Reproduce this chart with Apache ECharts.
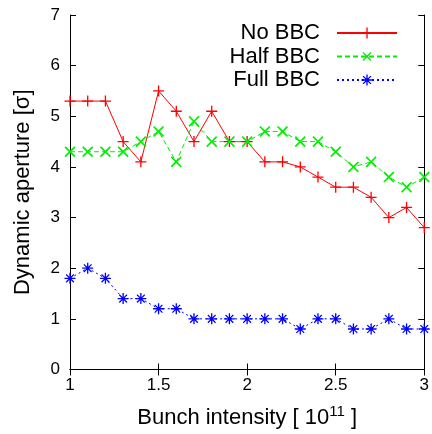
<!DOCTYPE html>
<html>
<head>
<meta charset="utf-8">
<script src="https://cdn.jsdelivr.net/npm/echarts@6/dist/echarts.min.js"></script>
<style>
  html, body { margin: 0; padding: 0; background: #fff; }
  #chart { width: 432px; height: 434px; }
</style>
</head>
<body>
<div id="chart"></div>
<script>
// bunch intensity [1e11]
var intensity = [1.0, 1.1, 1.2, 1.3, 1.4, 1.5, 1.6, 1.7, 1.8, 1.9, 2.0,
                 2.1, 2.2, 2.3, 2.4, 2.5, 2.6, 2.7, 2.8, 2.9, 3.0];
var noBBC   = [5.3, 5.3, 5.3, 4.5, 4.1, 5.5, 5.1, 4.5, 5.1, 4.5, 4.5,
               4.1, 4.1, 4.0, 3.8, 3.6, 3.6, 3.4, 3.0, 3.2, 2.8];
var halfBBC = [4.3, 4.3, 4.3, 4.3, 4.5, 4.7, 4.1, 4.9, 4.5, 4.5, 4.5,
               4.7, 4.7, 4.5, 4.5, 4.3, 4.0, 4.1, 3.8, 3.6, 3.8];
var fullBBC = [1.8, 2.0, 1.8, 1.4, 1.4, 1.2, 1.2, 1.0, 1.0, 1.0, 1.0,
               1.0, 1.0, 0.8, 1.0, 1.0, 0.8, 0.8, 1.0, 0.8, 0.8];
var seriesNames = ['No BBC', 'Half BBC', 'Full BBC'];
var xTicks = [1, 1.5, 2, 2.5, 3];
var yTicks = [0, 1, 2, 3, 4, 5, 6, 7];

var FONT = '"Liberation Sans", Arial, sans-serif';

// gnuplot-like point shapes
var plusPath = 'path://M-0.12,-1H0.12V-0.12H1V0.12H0.12V1H-0.12V0.12H-1V-0.12H-0.12Z';
var starPath = 'path://M-0.12,-1H0.12V-0.12H1V0.12H0.12V1H-0.12V0.12H-1V-0.12H-0.12Z' +
               'M-0.78,-0.62L-0.62,-0.78L0,-0.16L0.62,-0.78L0.78,-0.62L0.16,0L0.78,0.62L0.62,0.78L0,0.16L-0.62,0.78L-0.78,0.62L-0.16,0Z';

function pairs(ys) {
    var out = [];
    for (var i = 0; i < intensity.length; i++) {
        out.push([intensity[i], ys[i]]);
    }
    return out;
}

var chart = echarts.init(document.getElementById('chart'), null, {renderer: 'canvas'});

var axisCommon = {
    axisLine: {show: true, lineStyle: {color: '#000', width: 1}},
    axisTick: {show: true, inside: true, length: 6, lineStyle: {color: '#000', width: 1}},
    splitLine: {show: false}
};

var option = {
    animation: false,
    backgroundColor: '#fff',
    grid: {left: 70, right: 6, top: 15, bottom: 63, containLabel: false},
    legend: {
        orient: 'vertical',
        align: 'right',
        right: 29,
        top: 17,
        itemWidth: 60,
        itemHeight: 14,
        itemGap: 1.5,
        data: seriesNames,
        textStyle: {fontFamily: FONT, fontSize: 22, color: '#000', lineHeight: 22, padding: [0, 12, 0, 0]}
    },
    xAxis: [
        Object.assign({}, axisCommon, {
            type: 'value',
            position: 'bottom',
            min: xTicks[0],
            max: xTicks[xTicks.length - 1],
            interval: xTicks[1] - xTicks[0],
            axisLabel: {color: '#000', fontFamily: FONT, fontSize: 17, margin: 7},
            name: '{a|Bunch intensity [ 10}{s|11}{a| ]}',
            nameLocation: 'middle',
            nameGap: 35,
            nameTextStyle: {
                rich: {
                    a: {fontFamily: FONT, fontSize: 22, color: '#000'},
                    s: {fontFamily: FONT, fontSize: 15, color: '#000', padding: [0, 0, 12, 0]}
                }
            }
        }),
        Object.assign({}, axisCommon, {
            type: 'value',
            position: 'top',
            min: xTicks[0],
            max: xTicks[xTicks.length - 1],
            interval: xTicks[1] - xTicks[0],
            axisLabel: {show: false}
        })
    ],
    yAxis: [
        Object.assign({}, axisCommon, {
            type: 'value',
            position: 'left',
            min: yTicks[0],
            max: yTicks[yTicks.length - 1],
            interval: yTicks[1] - yTicks[0],
            axisLabel: {color: '#000', fontFamily: FONT, fontSize: 17, margin: 10, padding: [6, 0, 0, 0]},
            name: 'Dynamic aperture [σ]',
            nameLocation: 'middle',
            nameGap: 36,
            nameTextStyle: {fontFamily: FONT, fontSize: 22, color: '#000'}
        }),
        Object.assign({}, axisCommon, {
            type: 'value',
            position: 'right',
            min: yTicks[0],
            max: yTicks[yTicks.length - 1],
            interval: yTicks[1] - yTicks[0],
            axisLabel: {show: false}
        })
    ],
    series: [
        {
            name: seriesNames[0],
            type: 'line',
            data: pairs(noBBC),
            symbol: plusPath,
            symbolSize: 11,
            showAllSymbol: true,
            itemStyle: {color: '#ff0000'},
            lineStyle: {color: '#ff0000', width: 1, type: 'solid'}
        },
        {
            name: seriesNames[1],
            type: 'line',
            data: pairs(halfBBC),
            symbol: plusPath,
            symbolRotate: 45,
            symbolSize: 14,
            showAllSymbol: true,
            itemStyle: {color: '#00ee00'},
            lineStyle: {color: '#00ee00', width: 1, type: [5, 3]}
        },
        {
            name: seriesNames[2],
            type: 'line',
            data: pairs(fullBBC),
            symbol: starPath,
            symbolSize: 11,
            showAllSymbol: true,
            itemStyle: {color: '#0000ff'},
            lineStyle: {color: '#0000ff', width: 1, type: [2, 3]}
        }
    ]
};

chart.setOption(option);
</script>
</body>
</html>
